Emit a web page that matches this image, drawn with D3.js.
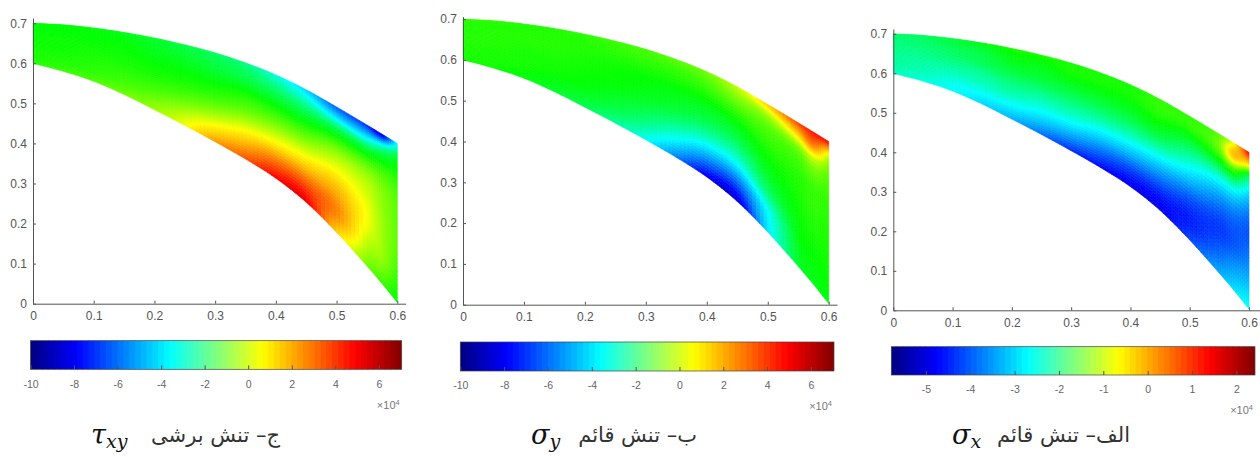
<!DOCTYPE html>
<html lang="fa">
<head>
<meta charset="UTF-8">
<title>Stress fields</title>
<script src="https://d3js.org/d3.v7.min.js"></script>
<style>
  body { margin: 0; background: #fff; }
  svg { display: block; }
  .axis text { font-family: "Liberation Sans", Arial, sans-serif; fill: #555; }
  .axis path, .axis line { stroke: #555; }
</style>
</head>
<body>
<div id="chart"></div>
<script>
// mesh stations along x, and the curved edges of the plate at each one
const xStations = [0, .05, .1, .15, .2, .25, .3, .35, .4, .45, .5, .55, .575, .6];
const innerY = [.6, .58, .555, .522, .484, .445, .404, .361, .313, .253, .178, .094, .05, .003];
const outerY = [.7, .696, .688, .677, .663, .646, .626, .601, .571, .534, .491, .446, .423, .4];
// fraction of the way across the plate, inner edge to outer edge
const rowS = [0, .17, .33, .5, .67, .83, .92, 1];

// field values x10^4, one line per x station, inner to outer
const tauXY = [
  [-1.2, -1.3, -1.3, -1.4, -1.4, -1.5, -1.5, -1.5],
  [-1.0, -1.2, -1.3, -1.4, -1.4, -1.5, -1.5, -1.5],
  [-0.8, -1.1, -1.2, -1.3, -1.4, -1.5, -1.5, -1.6],
  [-0.5, -0.9, -1.1, -1.3, -1.4, -1.5, -1.6, -1.7],
  [-0.1, -0.6, -1.0, -1.3, -1.5, -1.7, -1.8, -1.9],
  [0.7, 0.0, -0.7, -1.2, -1.5, -1.8, -2.0, -2.1],
  [2.4, 0.9, -0.2, -1.0, -1.5, -2.0, -2.2, -2.4],
  [3.6, 1.9, 0.5, -0.6, -1.3, -2.1, -2.4, -2.8],
  [5.0, 3.0, 1.0, -0.3, -1.3, -2.3, -3.0, -3.7],
  [5.3, 3.5, 1.5, 0.0, -1.2, -2.5, -3.6, -4.7],
  [1.5, 2.8, 2.0, 0.7, -0.5, -2.3, -4.5, -6.5],
  [-0.5, 0.2, 0.7, 0.4, -0.3, -2.0, -4.5, -7.3],
  [-1.0, -0.2, -0.1, -0.2, -0.5, -1.6, -3.5, -8.5],
  [-1.5, -1.0, -0.7, -0.7, -0.8, -1.4, -2.0, -4.0]
];
const sigmaY = [
  [-1.3, -1.3, -1.2, -1.2, -1.2, -1.2, -1.1, -1.1],
  [-1.4, -1.3, -1.3, -1.2, -1.2, -1.2, -1.2, -1.1],
  [-1.6, -1.4, -1.3, -1.3, -1.2, -1.2, -1.2, -1.2],
  [-1.9, -1.6, -1.4, -1.3, -1.2, -1.2, -1.2, -1.2],
  [-2.3, -1.8, -1.5, -1.4, -1.3, -1.2, -1.2, -1.1],
  [-3.0, -2.2, -1.8, -1.5, -1.4, -1.2, -1.1, -1.0],
  [-4.0, -2.9, -2.2, -1.7, -1.5, -1.2, -1.0, -0.9],
  [-6.0, -4.2, -2.9, -2.0, -1.6, -1.2, -1.0, -0.7],
  [-8.3, -5.8, -3.8, -2.4, -1.7, -1.1, -0.8, -0.5],
  [-8.8, -6.3, -4.0, -2.5, -1.6, -0.8, -0.3, 0.2],
  [-4.5, -4.0, -2.5, -1.7, -1.2, -0.7, 0.0, 1.5],
  [-2.0, -1.7, -1.5, -1.3, -1.1, -0.4, 1.5, 3.8],
  [-1.7, -1.5, -1.3, -1.1, -0.9, 0.3, 3.0, 4.6],
  [-1.6, -1.4, -1.3, -1.2, -1.0, -0.5, 0.6, 4.9]
];
const sigmaX = [
  [-2.6, -2.5, -2.4, -2.4, -2.3, -2.3, -2.2, -2.2],
  [-2.8, -2.6, -2.5, -2.4, -2.3, -2.2, -2.2, -2.1],
  [-2.9, -2.8, -2.6, -2.4, -2.2, -2.1, -2.0, -2.0],
  [-3.2, -2.9, -2.6, -2.4, -2.1, -2.0, -1.9, -1.8],
  [-3.5, -3.0, -2.6, -2.3, -2.0, -1.8, -1.7, -1.6],
  [-4.0, -3.3, -2.8, -2.4, -2.0, -1.8, -1.7, -1.6],
  [-4.5, -3.6, -2.9, -2.4, -2.0, -1.7, -1.6, -1.6],
  [-4.8, -4.0, -3.2, -2.5, -2.0, -1.7, -1.6, -1.6],
  [-5.0, -4.3, -3.4, -2.6, -2.0, -1.7, -1.6, -1.6],
  [-5.0, -4.5, -3.7, -2.8, -2.0, -1.6, -1.5, -1.5],
  [-4.3, -4.6, -4.2, -3.3, -2.5, -1.8, -1.5, -1.5],
  [-3.5, -4.1, -4.4, -3.9, -2.9, -1.6, -1.2, -1.3],
  [-3.1, -3.7, -4.2, -4.0, -3.0, -1.3, -0.1, -0.6],
  [-2.8, -3.4, -3.9, -4.2, -3.6, -2.3, -0.5, 1.5]
];

const xTicks = [0, .1, .2, .3, .4, .5, .6];
const yTicks = [0, .1, .2, .3, .4, .5, .6, .7];
const barTicksWide = [-10, -8, -6, -4, -2, 0, 2, 4, 6];
const barTicksX = [-5, -4, -3, -2, -1, 0, 1, 2];

const width = 1260, height = 457;
const svg = d3.select("#chart").append("svg").attr("width", width).attr("height", height);

// the plate is shaded with a 5 colour ramp, the colour bar is plain jet
const fieldStops = [0, .12, .35, .5, .63, .875, 1];
const fieldColors = ["#00008f", "#0000ff", "#00ffff", "#00ff00", "#ffff00", "#ff0000", "#800000"];
const jet = d3.scaleLinear()
  .domain([0, .125, .375, .625, .875, 1])
  .range(["#000080", "#0000ff", "#00ffff", "#ffff00", "#ff0000", "#800000"]);

const lerp = (a, b, t) => a + (b - a) * t;

// hermite curve through the knots so the shading and the edges stay smooth
function smooth(knots, vals, i, t) {
  const n = knots.length - 1;
  const h = knots[i + 1] - knots[i];
  const slope = k => {
    const a = Math.max(k - 1, 0), b = Math.min(k + 1, n);
    return (vals[b] - vals[a]) / (knots[b] - knots[a]);
  };
  const m0 = slope(i) * h, m1 = slope(i + 1) * h;
  const t2 = t * t, t3 = t2 * t;
  return (2 * t3 - 3 * t2 + 1) * vals[i] + (t3 - 2 * t2 + t) * m0 +
    (-2 * t3 + 3 * t2) * vals[i + 1] + (t3 - t2) * m1;
}

function drawPanel(p) {
  const x = d3.scaleLinear().domain([0, .6]).range([p.x0, p.x6]);
  const y = d3.scaleLinear().domain([0, .7]).range([p.y0, p.y7]);
  const color = d3.scaleLinear()
    .domain(fieldStops.map(f => lerp(p.vmin, p.vmax, f)))
    .range(fieldColors);

  // small shaded cells inside every mesh quad
  const cells = [];
  const nu = 8, nv = 6;
  for (let i = 0; i < xStations.length - 1; i++) {
    for (let j = 0; j < rowS.length - 1; j++) {
      for (let a = 0; a < nu; a++) {
        for (let b = 0; b < nv; b++) {
          cells.push({i, j, u0: a / nu, u1: (a + 1) / nu, v0: b / nv, v1: (b + 1) / nv});
        }
      }
    }
  }
  const corner = (c, u, v) => {
    const s = lerp(rowS[c.j], rowS[c.j + 1], v);
    const lo = smooth(xStations, innerY, c.i, u);
    const hi = smooth(xStations, outerY, c.i, u);
    return [x(lerp(xStations[c.i], xStations[c.i + 1], u)), y(lerp(lo, hi, s))];
  };
  const value = (c) => {
    const u = (c.u0 + c.u1) / 2, v = (c.v0 + c.v1) / 2;
    const across = rowS.map((_, r) => smooth(xStations, p.field.map(col => col[r]), c.i, u));
    return smooth(rowS, across, c.j, v);
  };
  cells.forEach(c => { c.fill = color(value(c)); });
  const g = svg.append("g");
  g.selectAll("path").data(cells).join("path")
    .attr("d", c => "M" + [corner(c, c.u0, c.v0), corner(c, c.u1, c.v0),
      corner(c, c.u1, c.v1), corner(c, c.u0, c.v1)].join("L") + "Z")
    .attr("fill", c => c.fill)
    .attr("stroke", c => c.fill)
    .attr("stroke-width", 0.6);

  // axes run a little past the last tick
  const xAxisScale = d3.scaleLinear().domain([0, p.xMax]).range([p.x0, x(p.xMax)]);
  const yAxisScale = d3.scaleLinear().domain([0, p.yMax]).range([p.y0, y(p.yMax)]);
  svg.append("g").attr("class", "axis")
    .attr("transform", `translate(0,${p.y0})`)
    .call(d3.axisBottom(xAxisScale).tickValues(xTicks).tickSizeInner(-3).tickSizeOuter(0).tickPadding(8)
      .tickFormat(d => d === 0 ? "0" : d3.format(".1f")(d)))
    .call(s => s.selectAll("text").style("font-size", "12px"));
  svg.append("g").attr("class", "axis")
    .attr("transform", `translate(${p.x0},0)`)
    .call(d3.axisLeft(yAxisScale).tickValues(yTicks).tickSizeInner(-3).tickSizeOuter(0).tickPadding(6)
      .tickFormat(d => d === 0 ? "0" : d3.format(".1f")(d)))
    .call(s => s.selectAll("text").style("font-size", "12px"));

  // colour bar
  const bar = d3.scaleLinear().domain([p.vmin, p.vmax]).range([p.barX0, p.barX1]);
  const bands = d3.range(64);
  const bw = (p.barX1 - p.barX0) / 64;
  svg.append("g").selectAll("rect").data(bands).join("rect")
    .attr("x", d => p.barX0 + d * bw)
    .attr("y", p.barY0)
    .attr("width", d => d === 63 ? bw : bw + 1)
    .attr("height", p.barY1 - p.barY0)
    .attr("fill", d => jet((d + .5) / 64));
  svg.append("rect")
    .attr("x", p.barX0).attr("y", p.barY0)
    .attr("width", p.barX1 - p.barX0).attr("height", p.barY1 - p.barY0)
    .attr("fill", "none").attr("stroke", "#444").attr("stroke-width", .7);
  svg.append("g").attr("class", "axis")
    .attr("transform", `translate(0,${p.barY1})`)
    .call(d3.axisBottom(bar).tickValues(p.barTicks).tickSizeInner(-4).tickSizeOuter(0).tickPadding(11))
    .call(s => s.select(".domain").remove())
    .call(s => s.selectAll("text").style("font-size", "10.5px").style("fill", "#666")
      .text(d => String(d)));

  const mult = svg.append("text")
    .attr("x", p.barX1 - 2).attr("y", p.multY)
    .attr("text-anchor", "end")
    .style("font-family", "Liberation Sans, Arial, sans-serif")
    .style("font-size", "11px").style("fill", "#777");
  mult.append("tspan").text("×10");
  mult.append("tspan").attr("dy", -4).style("font-size", "7.5px").text("4");

  // caption, Persian words on the right and the symbol on the left
  svg.append("text")
    .attr("x", p.capRight).attr("y", p.capY)
    .attr("text-anchor", "start")
    .attr("direction", "rtl")
    .style("font-family", "DejaVu Sans, sans-serif")
    .style("font-size", "21px").style("fill", "#333")
    .text(p.caption);
  const sym = svg.append("text")
    .attr("x", p.symX).attr("y", p.capY + 2)
    .style("font-family", "DejaVu Serif, serif")
    .style("font-style", "italic")
    .style("font-size", "27px").style("fill", "#111");
  sym.append("tspan").text(p.symbol);
  sym.append("tspan").attr("dy", 4).style("font-size", "19px").text(p.sub);
}

drawPanel({
  field: tauXY, vmin: -10, vmax: 7.05, barTicks: barTicksWide,
  x0: 33, x6: 397.3, y0: 303.7, y7: 23.2, xMax: .6137, yMax: .713,
  barX0: 30.5, barX1: 401.7, barY0: 340.7, barY1: 369.3, multY: 409,
  caption: "ج– تنش برشی", symbol: "τ", sub: "xy", symX: 91, capRight: 280, capY: 442
});
drawPanel({
  field: sigmaY, vmin: -10, vmax: 7.05, barTicks: barTicksWide,
  x0: 463, x6: 828.7, y0: 304.7, y7: 19.1, xMax: .6137, yMax: .706,
  barX0: 460.3, barX1: 834, barY0: 342, barY1: 371, multY: 410,
  caption: "ب– تنش قائم", symbol: "σ", sub: "y", symX: 531, capRight: 697, capY: 442
});
drawPanel({
  field: sigmaX, vmin: -5.78, vmax: 2.42, barTicks: barTicksX,
  x0: 893.3, x6: 1249, y0: 310.3, y7: 33.8, xMax: .619, yMax: .712,
  barX0: 891.3, barX1: 1255, barY0: 346.7, barY1: 375, multY: 414,
  caption: "الف– تنش قائم", symbol: "σ", sub: "x", symX: 952, capRight: 1130, capY: 442
});
</script>
</body>
</html>
